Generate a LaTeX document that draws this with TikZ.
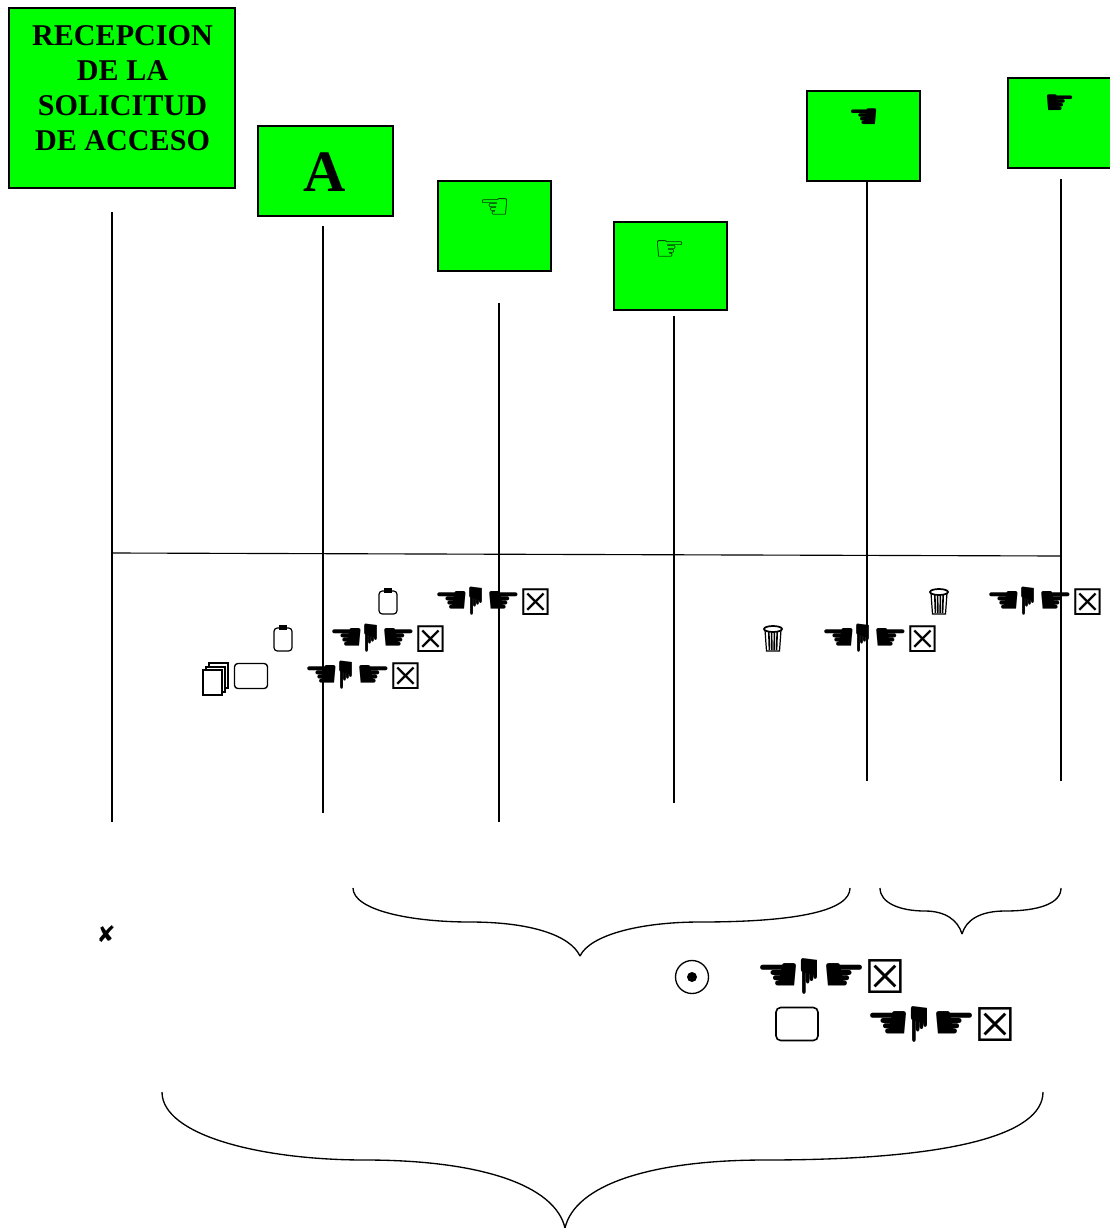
\documentclass[tikz,border=0pt]{standalone}
\usepackage{fontspec}
\usetikzlibrary{shapes.geometric}
\setmainfont{Liberation Serif}
\newfontfamily\djv{DejaVu Sans}
\tikzset{
  x=0.75pt,y=-0.75pt,
  gbox/.style={draw=black,line width=1.25pt,fill=green,inner sep=0pt,outer sep=0pt,anchor=north west},
  vline/.style={draw=black,line width=0.85pt},
  brace/.style={draw=black,line width=1pt},
  glyph/.style={inner sep=0pt,outer sep=0pt,text=black,font=\djv},
  rrect/.style={draw=black,rounded corners=2.5pt,line width=1pt,inner sep=0pt},
  lbl/.style={inner sep=0pt,align=center,font=\bfseries\fontsize{22.6pt}{26.2pt}\selectfont},
}
% #1 name, #2 x, #3 y, #4 scale (1 = small row)
\newcommand{\handgroup}[4]{%
  \node[glyph,scale=#4] (#1a) at (#2+14*#4,#3+1.5) {\fontsize{29pt}{29pt}\selectfont ☚};
  \node[glyph,scale=#4,rotate=90,yscale=0.72] (#1b) at (#2+39.5*#4,#3+0.5) {\fontsize{29pt}{29pt}\selectfont ☚};
  \node[glyph,scale=#4] (#1c) at (#2+65.5*#4,#3+1.5) {\fontsize{29pt}{29pt}\selectfont ☛};
  \node[glyph,scale=#4] (#1d) at (#2+98*#4,#3+1) {\fontsize{27.5pt}{27.5pt}\selectfont ☒};
}
% clipboard: #1 name, #2 x, #3 y
\newcommand{\clipboard}[3]{%
  \node[rrect,line width=0.9pt,minimum width=18*0.75pt,minimum height=23*0.75pt,fill=white] (#1) at (#2,#3+1.5) {};
  \node[draw=black,fill=black,inner sep=0pt,minimum width=7*0.75pt,minimum height=3.5*0.75pt] (#1t) at (#2,#3-10.5) {};
}
% wastebasket: #1 name, #2 x, #3 y
\newcommand{\wastebin}[3]{%
  \draw[line width=0.9pt,fill=white] (#2-8,#3-9) -- (#2-6.5,#3+12) -- (#2+6.5,#3+12) -- (#2+8,#3-9) -- cycle;
  \foreach \k in {-4.2,-1.4,1.4,4.2}{\draw[line width=1.2pt] (#2+\k,#3-7) -- (#2+0.85*\k,#3+11);}
  \node[ellipse,draw=black,line width=1.3pt,fill=white,inner sep=0pt,minimum width=18*0.75pt,minimum height=6*0.75pt] (#1) at (#2,#3-10) {};
}
\begin{document}
\begin{tikzpicture}
\useasboundingbox (0,0) rectangle (1110,1228);
% boxes
\node[gbox,minimum width=226*0.75pt,minimum height=180*0.75pt] (b1) at (9,8) {};
\node[gbox,minimum width=135*0.75pt,minimum height=90*0.75pt] (b2) at (258,126) {};
\node[gbox,minimum width=113*0.75pt,minimum height=90*0.75pt] (b3) at (438,181) {};
\node[gbox,minimum width=113*0.75pt,minimum height=88*0.75pt] (b4) at (614,222) {};
\node[gbox,minimum width=113*0.75pt,minimum height=90*0.75pt] (b5) at (807,91) {};
\node[gbox,minimum width=120*0.75pt,minimum height=90*0.75pt] (b6) at (1008,78) {};
\node[lbl] (t1) at (122.5,88.5) {RECEPCION\\DE LA\\SOLICITUD\\DE ACCESO};
\node[inner sep=0pt,font=\bfseries\fontsize{44pt}{44pt}\selectfont] (t2) at (325,172.5) {A};
\node[glyph] (h3) at (495,208.5) {\fontsize{26pt}{26pt}\selectfont ☜};
\node[glyph] (h4) at (670,250.5) {\fontsize{26pt}{26pt}\selectfont ☞};
\node[glyph] (h5) at (864,118.5) {\fontsize{26pt}{26pt}\selectfont ☚};
\node[glyph] (h6) at (1060,104.5) {\fontsize{26pt}{26pt}\selectfont ☛};
% verticals
\coordinate (a1) at (112,212); \coordinate (z1) at (112,822);
\coordinate (a2) at (323,226); \coordinate (z2) at (323,813);
\coordinate (a3) at (499,303); \coordinate (z3) at (499,822);
\coordinate (a4) at (674,316); \coordinate (z4) at (674,803);
\coordinate (a5) at (867,181); \coordinate (z5) at (867,781);
\coordinate (a6) at (1061,179); \coordinate (z6) at (1061,781);
\coordinate (hl) at (112,553); \coordinate (hr) at (1061,556);
\draw[vline] (a1) -- (z1);
\draw[vline] (a2) -- (z2);
\draw[vline] (a3) -- (z3);
\draw[vline] (a4) -- (z4);
\draw[vline] (a5) -- (z5);
\draw[vline] (a6) -- (z6);
\draw[vline] (hl) -- (hr);
% symbol rows
\handgroup{ga}{438}{601}{1}
\handgroup{gb}{333}{638}{1}
\handgroup{gc}{308}{675}{1}
\handgroup{gd}{990}{601}{1}
\handgroup{ge}{825}{638}{1}
\handgroup{gf}{761}{976}{1.27}
\handgroup{gg}{871}{1024}{1.27}
\clipboard{c1}{388}{601}
\clipboard{c2}{283}{638}
\wastebin{w1}{939}{602}
\wastebin{w2}{773}{639}
\node[rrect,minimum width=33*0.75pt,minimum height=25*0.75pt] (r1) at (251,676) {};
\node[rrect,minimum width=42*0.75pt,minimum height=33*0.75pt,line width=1.2pt,rounded corners=3.5pt] (r2) at (797,1024) {};
\foreach \i/\dx/\dy in {1/6/-7,2/3/-3,3/0/0}{
  \node[draw=black,fill=white,line width=0.9pt,inner sep=0pt,minimum width=19*0.75pt,minimum height=25*0.75pt] (d\i) at (212.5+\dx,682.5+\dy) {};
}
\node[circle,draw=black,line width=1pt,inner sep=0pt,minimum size=33*0.75pt] (o1) at (692,977) {};
\node[circle,fill=black,inner sep=0pt,minimum size=10*0.75pt] (o2) at (o1) {};
\node[glyph] (x1) at (106,934) {\fontsize{17pt}{17pt}\selectfont ✘};
% braces
\coordinate (p1) at (353,888); \coordinate (q1) at (850,888); \coordinate (m1) at (580,956);
\draw[brace] (p1) .. controls (353,910) and (410,922) .. (470,922) .. controls (530,922) and (570,935) .. (m1);
\draw[brace] (m1) .. controls (590,935) and (640,922) .. (700,922) .. controls (800,922) and (850,910) .. (q1);
\coordinate (p2) at (880,888); \coordinate (q2) at (1061,888); \coordinate (m2) at (962,934);
\draw[brace] (p2) .. controls (880,903) and (900,911) .. (925,911) .. controls (945,911) and (958,920) .. (m2);
\draw[brace] (m2) .. controls (966,920) and (980,911) .. (1005,911) .. controls (1040,911) and (1061,903) .. (q2);
\coordinate (p3) at (162,1092); \coordinate (q3) at (1043,1092); \coordinate (m3) at (565,1228);
\draw[brace] (p3) .. controls (162,1135) and (260,1160) .. (365,1160) .. controls (480,1160) and (555,1185) .. (m3);
\draw[brace] (m3) .. controls (575,1185) and (650,1160) .. (765,1160) .. controls (950,1160) and (1043,1135) .. (q3);
\end{tikzpicture}
\end{document}
